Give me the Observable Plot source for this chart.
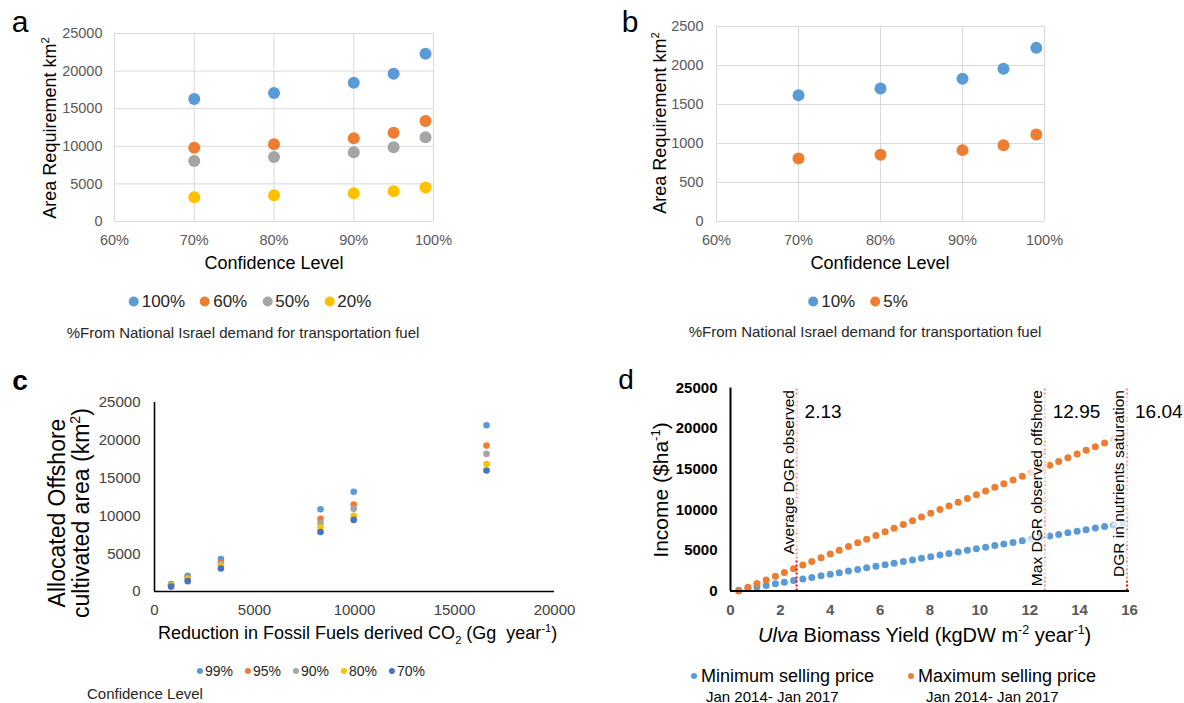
<!DOCTYPE html>
<html><head><meta charset="utf-8">
<script src="https://cdn.jsdelivr.net/npm/d3@7"></script>
<script src="https://cdn.jsdelivr.net/npm/@observablehq/plot@0.6"></script>
<style>
html,body{margin:0;padding:0;background:#fff;}
#root{position:relative;width:1184px;height:703px;overflow:hidden;font-family:"Liberation Sans",Arial,sans-serif;color:#262626;}
.abs{position:absolute;white-space:nowrap;line-height:1;}
.panel{position:absolute;}
.panel svg{overflow:visible;}
.leg{position:absolute;display:flex;align-items:center;white-space:nowrap;line-height:1;transform:translate(-50%,-50%);}
.sw{display:inline-block;border-radius:50%;flex:none;}
sup,sub{font-size:62%;line-height:0;}
</style></head>
<body><div id="root"></div>
<script>
// ---------- Panel a data ----------
const confLevels = [70, 80, 90, 95, 99];
const aNames = ["100%", "60%", "50%", "20%"];
const a100 = [16300, 17100, 18450, 19650, 22300];
const a60  = [9800, 10270, 11060, 11810, 13360];
const a50  = [8050, 8580, 9200, 9870, 11190];
const a20  = [3230, 3500, 3760, 4030, 4510];
const aTicksX = [60, 70, 80, 90, 100];
const aTicksY = [0, 5000, 10000, 15000, 20000, 25000];

// ---------- Panel b data ----------
const bNames = ["10%", "5%"];
const b10 = [1620, 1705, 1830, 1957, 2226];
const b5  = [808, 855, 915, 979, 1115];
const bTicksY = [0, 500, 1000, 1500, 2000, 2500];

// ---------- Panel c data ----------
const cReduction = [830, 1660, 3320, 8300, 9960, 16600];
const cNames = ["99%", "95%", "90%", "80%", "70%"];
const c99 = [1000, 2080, 4300, 10880, 13200, 22000];
const c95 = [880, 1860, 3850, 9600, 11500, 19300];
const c90 = [930, 1770, 3630, 9030, 10930, 18200];
const c80 = [800, 1640, 3400, 8450, 10000, 16860];
const c70 = [650, 1370, 3050, 7880, 9470, 16000];
const cTicksX = [0, 5000, 10000, 15000, 20000];
const cTicksY = [0, 5000, 10000, 15000, 20000, 25000];

// ---------- Panel d data ----------
const dYield = [0.33,0.70,1.06,1.43,1.80,2.16,2.53,2.90,3.26,3.63,4.00,4.36,4.73,5.10,5.46,5.83,6.20,6.56,6.93,7.30,7.66,8.03,8.40,8.76,9.13,9.50,9.86,10.23,10.60,10.96,11.33,11.70,12.06,12.43,12.80,13.16,13.53,13.90,14.26,14.63,15.00,15.36,15.73];
const dMinIncome = [100,300,490,690,890,1080,1280,1480,1670,1870,2060,2260,2450,2650,2850,3040,3240,3430,3630,3830,4020,4220,4420,4610,4810,5010,5200,5400,5590,5790,5980,6180,6380,6570,6770,6960,7160,7360,7550,7750,7950,8140,8340];
const dMaxIncome = [0,460,910,1370,1830,2280,2740,3200,3640,4100,4560,5010,5470,5930,6380,6840,7300,7740,8200,8660,9110,9570,10030,10480,10940,11400,11850,12310,12770,13210,13670,14130,14580,15040,15500,15950,16410,16870,17320,17780,18240,18680,19140];
const dNames = ["Minimum selling price", "Maximum selling price"];
const dLineX = [2.65, 12.6, 15.9];
const dLineNum = ["2.13", "12.95", "16.04"];
const dLineLabel = ["Average DGR observed", "Max DGR observed offshore", "DGR in nutrients saturation"];
const dTicksX = [0, 2, 4, 6, 8, 10, 12, 14, 16];
const dTicksY = [0, 5000, 10000, 15000, 20000, 25000];

// ---------- colours ----------
const BLUE = "#5B9BD5", ORANGE = "#ED7D31", GRAY = "#A5A5A5", GOLD = "#FFC000", DBLUE = "#4472C4";
const aColors = [BLUE, ORANGE, GRAY, GOLD];
const bColors = [BLUE, ORANGE];
const cColors = [BLUE, ORANGE, GRAY, GOLD, DBLUE];
const dColors = [BLUE, ORANGE];

const root = document.getElementById("root");
const FONT = "'Liberation Sans', Arial, sans-serif";
const plain = d => String(d);

function place(svg, left, top) {
  const d = document.createElement("div");
  d.className = "panel";
  d.style.left = left + "px"; d.style.top = top + "px";
  d.appendChild(svg); root.appendChild(d);
}
function txt(html, cx, cy, size, opts = {}) {
  const d = document.createElement("div");
  d.className = "abs";
  d.innerHTML = html;
  d.style.left = cx + "px"; d.style.top = cy + "px";
  d.style.fontSize = size + "px";
  let tr = opts.anchor === "start" ? "translate(0,-50%)" : "translate(-50%,-50%)";
  if (opts.rotate) tr += " rotate(-90deg)";
  d.style.transform = tr;
  if (opts.color) d.style.color = opts.color;
  if (opts.weight) d.style.fontWeight = opts.weight;
  root.appendChild(d);
  return d;
}
function legend(items, colors, cx, cy, size, dot, gapIn, gapOut) {
  const d = document.createElement("div");
  d.className = "leg";
  d.style.left = cx + "px"; d.style.top = cy + "px"; d.style.fontSize = size + "px";
  d.style.gap = gapOut + "px";
  items.forEach((name, i) => {
    const it = document.createElement("span");
    it.style.display = "flex"; it.style.alignItems = "center"; it.style.gap = gapIn + "px";
    const sw = document.createElement("span");
    sw.className = "sw"; sw.style.width = dot + "px"; sw.style.height = dot + "px"; sw.style.background = colors[i];
    const t = document.createElement("span"); t.textContent = name;
    it.appendChild(sw); it.appendChild(t); d.appendChild(it);
  });
  root.appendChild(d);
}
function long(xs, names, series, xKey, yKey) {
  const out = [];
  names.forEach((n, j) => xs.forEach((x, i) => out.push({[xKey]: x, [yKey]: series[j][i], series: n})));
  return out;
}

// ---------- Panel a ----------
const tableA = long(confLevels, aNames, [a100, a60, a50, a20], "conf", "area");
place(Plot.plot({
  width: 470, height: 250,
  marginLeft: 114, marginRight: 37, marginTop: 33, marginBottom: 29,
  style: {fontFamily: FONT, fontSize: "14.5px", color: "#595959", background: "transparent"},
  x: {domain: [60, 100]},
  y: {domain: [0, 25000]},
  color: {domain: aNames, range: aColors},
  marks: [
    Plot.gridY(aTicksY, {stroke: "#D9D9D9", strokeOpacity: 1}),
    Plot.gridX(aTicksX, {stroke: "#D9D9D9", strokeOpacity: 1}),
    Plot.axisY(aTicksY, {tickSize: 0, tickPadding: 12, label: null, tickFormat: plain}),
    Plot.axisX(aTicksX, {tickSize: 0, tickPadding: 13, label: null, tickFormat: d => d + "%"}),
    Plot.dot(tableA, {x: "conf", y: "area", fill: "series", r: 6})
  ]
}), 0, 0);
txt("a", 20, 22, 30, {color: "#000"});
txt("Area Requirement km<sup>2</sup>", 50, 128, 18, {rotate: true, color: "#000"});
txt("Confidence Level", 274, 263, 18, {color: "#000"});
legend(aNames, aColors, 250, 301, 17, 10, 3, 15);
txt("%From National Israel demand for transportation fuel", 243, 332, 15, {color: "#262626"});

// ---------- Panel b ----------
const tableB = long(confLevels, bNames, [b10, b5], "conf", "area");
place(Plot.plot({
  width: 500, height: 250,
  marginLeft: 126, marginRight: 46, marginTop: 26, marginBottom: 29,
  style: {fontFamily: FONT, fontSize: "14.5px", color: "#595959", background: "transparent"},
  x: {domain: [60, 100]},
  y: {domain: [0, 2500]},
  color: {domain: bNames, range: bColors},
  marks: [
    Plot.gridY(bTicksY, {stroke: "#D9D9D9", strokeOpacity: 1}),
    Plot.gridX(aTicksX, {stroke: "#D9D9D9", strokeOpacity: 1}),
    Plot.axisY(bTicksY, {tickSize: 0, tickPadding: 13, label: null, tickFormat: plain}),
    Plot.axisX(aTicksX, {tickSize: 0, tickPadding: 13, label: null, tickFormat: d => d + "%"}),
    Plot.dot(tableB, {x: "conf", y: "area", fill: "series", r: 6})
  ]
}), 590, 0);
txt("b", 630, 22, 30, {color: "#000"});
txt("Area Requirement km<sup>2</sup>", 660, 123, 18, {rotate: true, color: "#000"});
txt("Confidence Level", 880, 263, 18, {color: "#000"});
legend(bNames, bColors, 858, 301, 17, 10, 3, 15);
txt("%From National Israel demand for transportation fuel", 865, 331, 15, {color: "#262626"});

// ---------- Panel c ----------
const tableC = long(cReduction, cNames, [c99, c95, c90, c80, c70], "reduction", "area");
place(Plot.plot({
  width: 580, height: 260,
  marginLeft: 154, marginRight: 26, marginTop: 32, marginBottom: 39,
  style: {fontFamily: FONT, fontSize: "15px", color: "#404040", background: "transparent"},
  x: {domain: [0, 20000]},
  y: {domain: [0, 25000]},
  color: {domain: cNames, range: cColors},
  marks: [
    Plot.axisY(cTicksY, {tickSize: 0, tickPadding: 14, label: null, tickFormat: plain}),
    Plot.axisX(cTicksX, {tickSize: 0, tickPadding: 13, label: null, tickFormat: plain}),
    Plot.ruleX([0], {stroke: "#000", strokeWidth: 1.6}),
    Plot.ruleY([0], {stroke: "#000", strokeWidth: 1.6}),
    Plot.dot(tableC, {x: "reduction", y: "area", fill: "series", r: 3.3})
  ]
}), 0, 370);
txt("c", 20, 381, 28, {color: "#000", weight: "bold"});
txt("Allocated Offshore", 57, 513, 23, {rotate: true, color: "#000"});
txt("cultivated area (km<sup>2</sup>)", 81, 513, 23, {rotate: true, color: "#000"});
txt("Reduction in Fossil Fuels derived CO<sub>2</sub> (Gg&nbsp; year<sup>-1</sup>)", 158, 633, 18, {anchor: "start", color: "#000"});
legend(cNames, cColors, 311, 671, 14, 6, 2, 12);
txt("Confidence Level", 87, 693, 15, {anchor: "start", color: "#262626"});

// ---------- Panel d ----------
const tableD = long(dYield, dNames, [dMinIncome, dMaxIncome], "yield", "income");
const linesD = dLineX.map((x, i) => ({x, num: dLineNum[i], label: dLineLabel[i]}));
place(Plot.plot({
  width: 594, height: 260,
  marginLeft: 140, marginRight: 55, marginTop: 17.5, marginBottom: 39.5,
  style: {fontFamily: FONT, fontSize: "15px", color: "#000", background: "transparent"},
  x: {domain: [0, 16]},
  y: {domain: [0, 25000]},
  color: {domain: dNames, range: dColors},
  marks: [
    Plot.axisY(dTicksY, {tickSize: 0, tickPadding: 13, label: null, tickFormat: plain, fontWeight: "bold", fill: "#000"}),
    Plot.axisX(dTicksX, {tickSize: 0, tickPadding: 13, label: null, tickFormat: plain, fontWeight: "bold", fill: "#595959"}),
    Plot.dot(tableD, {x: "yield", y: "income", fill: "series", r: 3.5}),
    Plot.ruleX(linesD, {x: "x", y1: 0, y2: 25000, stroke: "#FF0000", strokeWidth: 2, strokeDasharray: "2,2"}),
    Plot.text(linesD, {x: "x", frameAnchor: "top", text: "label", rotate: -90, textAnchor: "end", dx: -14, dy: 2,
      fontSize: 15.5, fill: "#000", stroke: "#fff", strokeOpacity: 0.55, strokeWidth: 12, paintOrder: "stroke"}),
    Plot.text(linesD, {x: "x", frameAnchor: "top", text: "num", textAnchor: "start", dx: 8, dy: 16, fontSize: 19, fill: "#000"}),
    Plot.ruleX([0], {stroke: "#000", strokeWidth: 2}),
    Plot.ruleY([0], {stroke: "#000", strokeWidth: 2})
  ]
}), 590, 370);
txt("d", 626, 380, 28, {color: "#000"});
txt("Income ($ha<sup>-1</sup>)", 660, 490, 21, {rotate: true, color: "#000"});
txt("<i>Ulva</i> Biomass Yield (kgDW m<sup>-2</sup> year<sup>-1</sup>)", 758, 635, 20, {anchor: "start", color: "#000"});
// legend d (two columns with sub-caption)
[[dNames[0], dColors[0], 691, 706], [dNames[1], dColors[1], 908, 926]].forEach(([name, col, left, subLeft]) => {
  const row = document.createElement("div");
  row.className = "abs";
  row.style.left = left + "px"; row.style.top = "676px"; row.style.transform = "translate(0,-50%)";
  row.style.display = "flex"; row.style.alignItems = "center"; row.style.gap = "4px"; row.style.fontSize = "18px"; row.style.color = "#000";
  const sw = document.createElement("span"); sw.className = "sw"; sw.style.width = "6px"; sw.style.height = "6px"; sw.style.background = col;
  const t = document.createElement("span"); t.textContent = name;
  row.appendChild(sw); row.appendChild(t); root.appendChild(row);
  txt("Jan 2014- Jan 2017", subLeft, 696, 15, {anchor: "start", color: "#000"});
});
</script>
</body></html>
